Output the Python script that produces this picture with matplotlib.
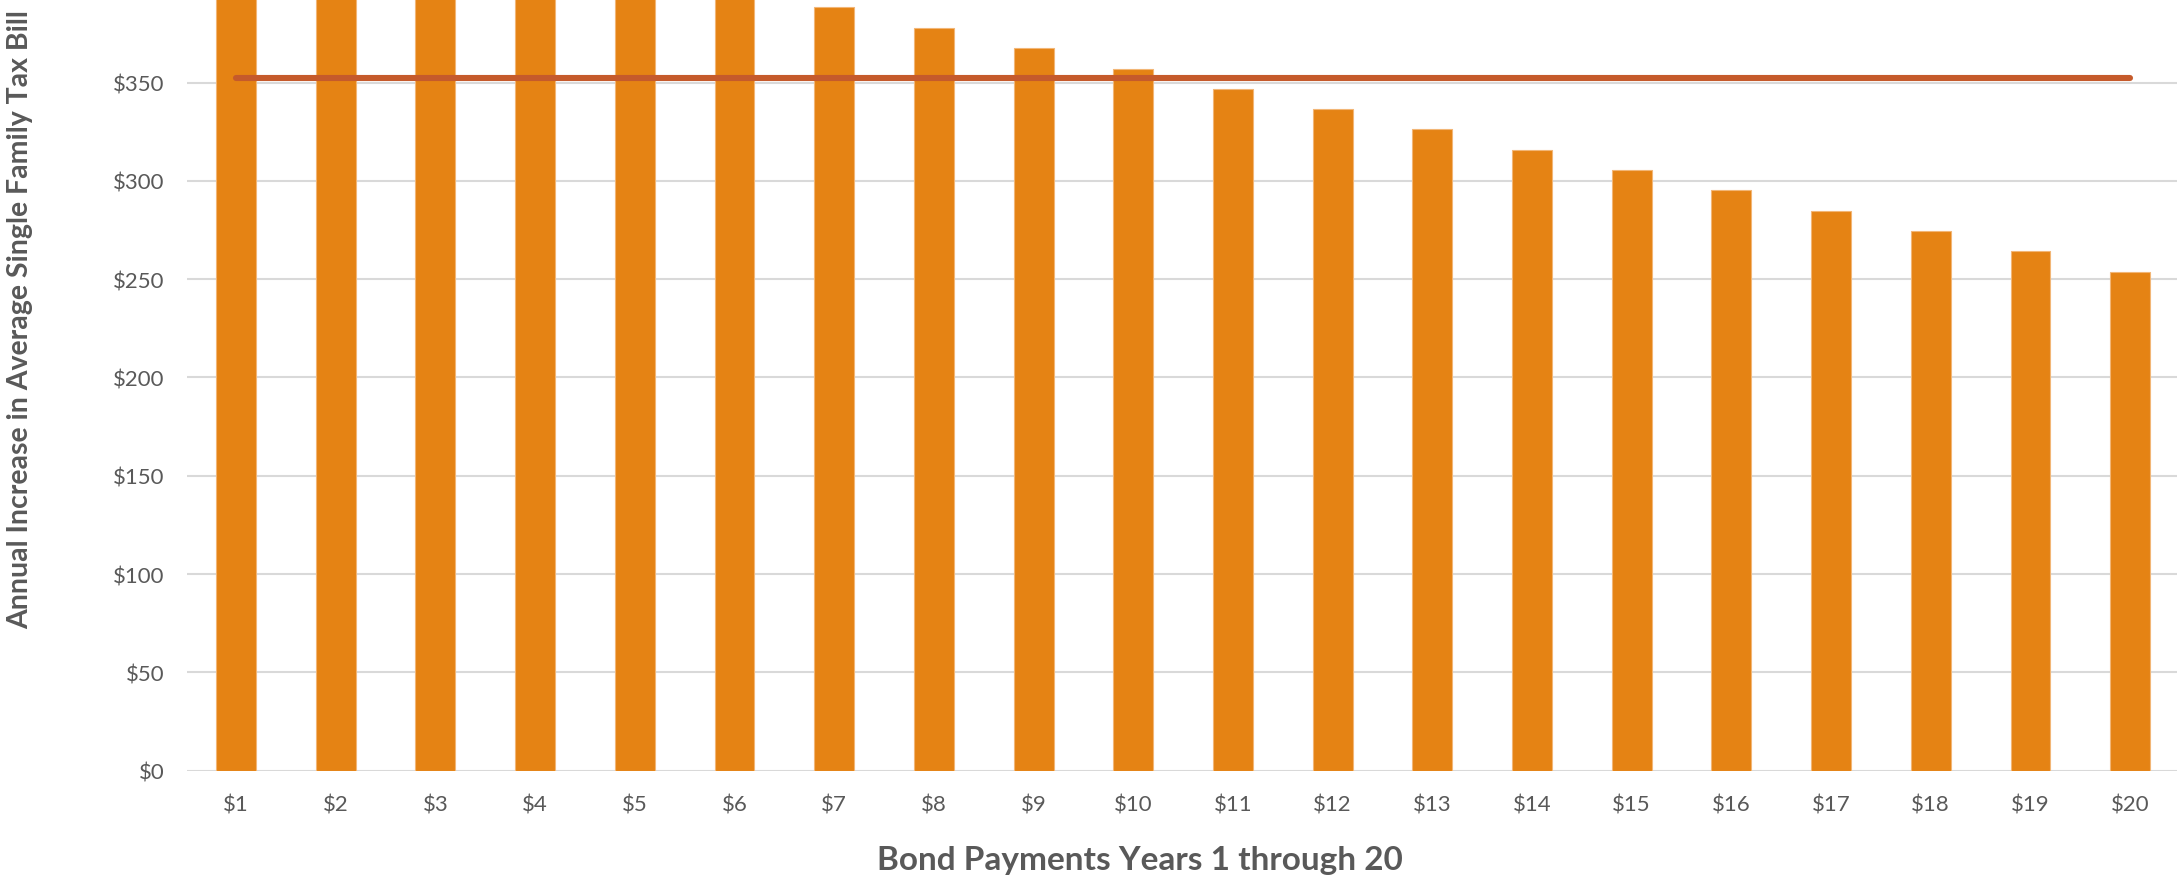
import matplotlib
matplotlib.use("Agg")
import matplotlib.pyplot as plt

# Data
years = [f"${i}" for i in range(1, 21)]
tax_increase = [450.5, 440.2, 429.8, 419.5, 409.1, 398.8, 388.4, 377.8, 367.5, 357.1,
                346.8, 336.6, 326.3, 315.9, 305.6, 295.3, 284.7, 274.6, 264.2, 253.9]
average_value = [352.4] * 20
yticks = [0, 50, 100, 150, 200, 250, 300, 350]
ytick_labels = ["$0", "$50", "$100", "$150", "$200", "$250", "$300", "$350"]

plt.rcParams['font.family'] = ['Lato', 'DejaVu Sans']

W, H = 2177, 879
fig = plt.figure(figsize=(W / 100, H / 100), dpi=100)
ax = fig.add_axes([187 / W, 1 - 771.7 / H, 1 - 187 / W, 771.7 / H])

x = list(range(1, 21))
ax.bar(x, tax_increase, width=0.4, color='#E58314', edgecolor='#F2B676',
       linewidth=0.8, zorder=2)
ax.plot(x, average_value, color='#C55A2B', linewidth=4.4,
        solid_capstyle='round', zorder=3)

ax.set_xlim(0.508, 20.47)
ax.set_ylim(0, 392.5)
ax.set_yticks(yticks)
ax.set_yticklabels(ytick_labels)
ax.set_xticks(x)
ax.set_xticklabels(years)
ax.yaxis.grid(True, color='#D9D9D9', linewidth=1.5, zorder=0)
ax.set_axisbelow(True)
for s in ax.spines.values():
    s.set_visible(False)
ax.tick_params(axis='both', length=0, labelsize=16, labelcolor='#595959')
ax.tick_params(axis='x', pad=17)
ax.tick_params(axis='y', pad=16)

fig.text(1140 / W, 1 - 861 / H, "Bond Payments Years 1 through 20",
         ha='center', va='center', fontsize=24, fontweight='bold', color='#595959')
fig.text(20 / W, 1 - 320 / H, "Annual Increase in Average Single Family Tax Bill",
         ha='center', va='center', rotation=90, fontsize=20.5, fontweight='bold',
         color='#595959')

fig.savefig("out.png", dpi=100)
